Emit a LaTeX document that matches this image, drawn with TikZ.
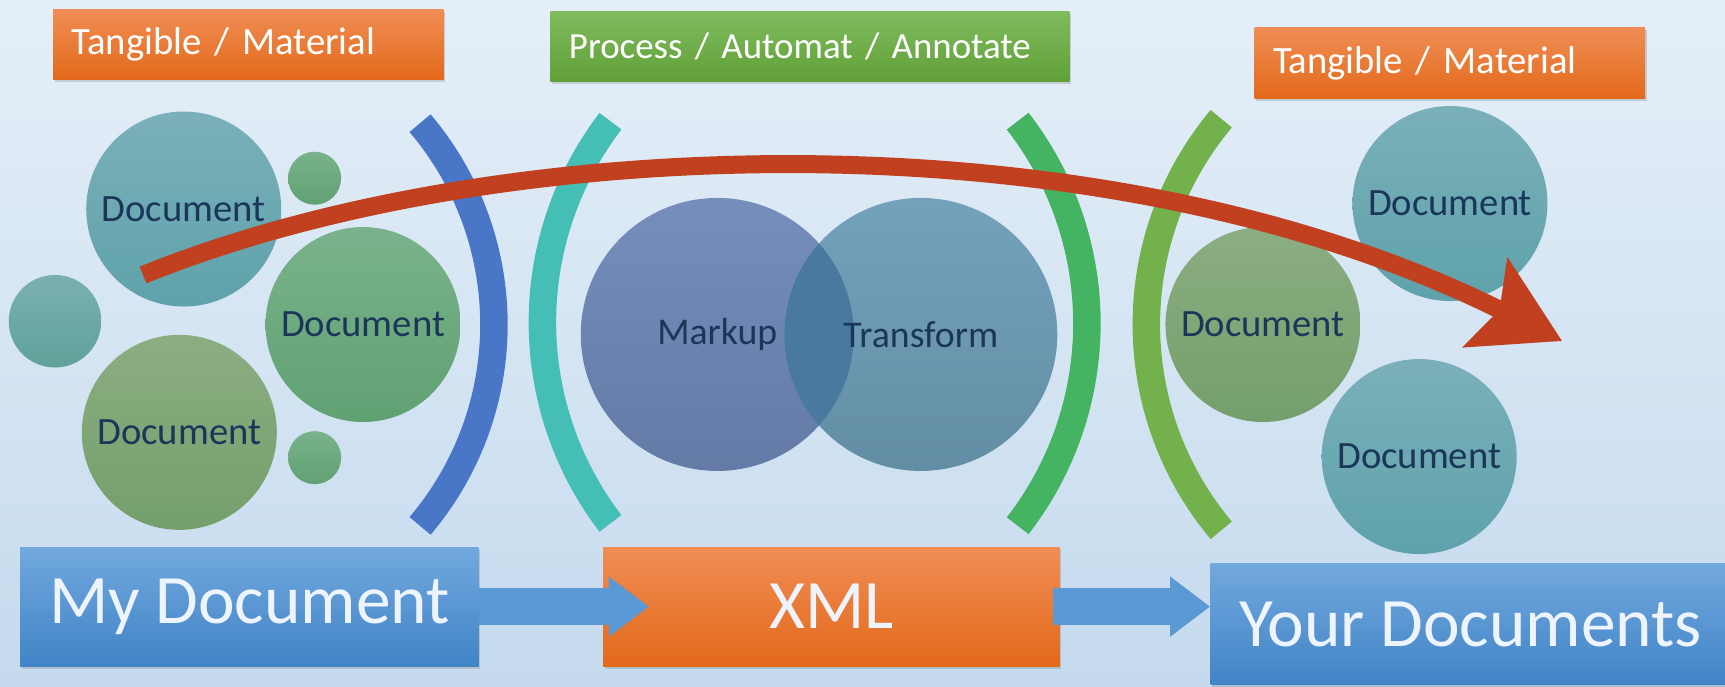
\documentclass[tikz,border=0pt]{standalone}
\usepackage{fontspec}
\setmainfont{Carlito}
\usepackage{xcolor}
\usepackage{tikz}
\usetikzlibrary{shapes.geometric, arrows.meta, shadows}

\definecolor{skytop}{HTML}{E5EFF8}
\definecolor{skybot}{HTML}{C5DAEE}
\definecolor{orangetop}{HTML}{F08D55}
\definecolor{orangebot}{HTML}{E3691A}
\definecolor{greentop}{HTML}{80BB5E}
\definecolor{greenbot}{HTML}{60A038}
\definecolor{bluetop}{HTML}{72A8DE}
\definecolor{bluebot}{HTML}{4084C6}
\definecolor{docink}{HTML}{1A3658}
\definecolor{boxink}{HTML}{EEF4FB}
\definecolor{tealtop}{HTML}{7AB0B9}
\definecolor{tealbot}{HTML}{5FA2AB}
\definecolor{leaftop}{HTML}{7AB28B}
\definecolor{leafbot}{HTML}{60A172}
\definecolor{olivetop}{HTML}{8BAD82}
\definecolor{olivebot}{HTML}{749F6B}
\definecolor{markupblue}{HTML}{6E88B8}
\definecolor{transformblue}{HTML}{6D9DB7}
\definecolor{lensblue}{HTML}{4A79A0}
\definecolor{arcblue}{HTML}{4A76C8}
\definecolor{arcteal}{HTML}{45BEB5}
\definecolor{arcgreen}{HTML}{44B463}
\definecolor{arclime}{HTML}{72B14B}
\definecolor{flowred}{HTML}{C1401F}
\definecolor{pipeblue}{HTML}{5B99D4}

\tikzstyle{doc} = [circle, minimum size=3.9cm, inner sep=0pt, text=docink, font=\fontsize{22}{26}\selectfont]
\tikzstyle{bubble} = [circle, inner sep=0pt]
\tikzstyle{venn} = [circle, minimum size=5.46cm, inner sep=0pt, text=docink, font=\fontsize{21.5}{26}\selectfont]
\tikzstyle{tag} = [rectangle, anchor=north west, minimum height=1.41cm, inner xsep=0.37cm, align=left, text=white, font=\fontsize{22}{26}\selectfont, drop shadow={opacity=0.3, shadow xshift=0.03cm, shadow yshift=-0.05cm}]
\tikzstyle{bigbox} = [rectangle, anchor=north west, minimum height=2.38cm, text=boxink, font=\fontsize{39.5}{46}\selectfont, drop shadow={opacity=0.3, shadow xshift=0.03cm, shadow yshift=-0.05cm}]
\tikzstyle{bracket} = [line width=0.55cm]
\tikzstyle{flow} = [line width=0.36cm, draw=flowred, -{Stealth[length=1.7cm, width=1.95cm, inset=0.3cm]}]
\tikzstyle{pipe} = [line width=0.73cm, draw=pipeblue, -{Triangle[length=0.8cm, width=1.15cm]}]

\begin{document}
\begin{tikzpicture}[x=0.022cm, y=0.022cm]
   \useasboundingbox (0,0) rectangle (1568,624);
   \shade [top color=skytop, bottom color=skybot] (0,0) rectangle (1568,624);
   \node (tagleft) [tag, text width=7.07cm, top color=orangetop, bottom color=orangebot] at (48,616) {\mbox{Tangible / Material}};
   \node (tagmid) [tag, text width=9.64cm, font=\fontsize{21}{25}\selectfont, top color=greentop, bottom color=greenbot] at (500,614) {\mbox{Process / Automat / Annotate}};
   \node (tagright) [tag, text width=7.07cm, top color=orangetop, bottom color=orangebot] at (1140,599) {\mbox{Tangible / Material}};
   \node (docA) [doc, top color=tealtop, bottom color=tealbot] at (167,434) {Document};
   \node (dotA) [bubble, minimum size=1.06cm, top color=leaftop, bottom color=leafbot] at (286,462) {};
   \node (dotB) [bubble, minimum size=1.85cm, top color=tealtop!80!leaftop, bottom color=tealbot!70!leafbot] at (50,332) {};
   \node (docB) [doc, top color=leaftop, bottom color=leafbot] at (330,329) {Document};
   \node (docC) [doc, top color=olivetop, bottom color=olivebot] at (163,231) {Document};
   \node (dotC) [bubble, minimum size=1.06cm, top color=leaftop, bottom color=leafbot] at (286,208) {};
   \node (markup) [venn, top color=markupblue!95!white, bottom color=markupblue!90!black] at (652,320) {Markup};
   \node (transform) [venn, top color=transformblue!95!white, bottom color=transformblue!90!black, path picture={\fill [lensblue] (markup) circle [radius=124];}] at (837,320) {Transform};
   \node (docD) [doc, top color=tealtop, bottom color=tealbot] at (1318,439) {Document};
   \node (docE) [doc, top color=olivetop, bottom color=olivebot] at (1148,329) {Document};
   \node (docF) [doc, top color=tealtop, bottom color=tealbot] at (1290,209) {Document};
   \draw [bracket, draw=arcblue] ([shift={(40.3:283)}]166,329) arc [start angle=40.3, end angle=-40.3, radius=283];
   \draw [bracket, draw=arcteal] ([shift={(142.6:301)}]794,331) arc [start angle=142.6, end angle=217.4, radius=301];
   \draw [bracket, draw=arcgreen] ([shift={(37.8:300)}]688,330) arc [start angle=37.8, end angle=-37.8, radius=300];
   \draw [bracket, draw=arclime] ([shift={(140:291)}]1333,329) arc [start angle=140, end angle=220, radius=291];
   \coordinate (flowstart) at (130,374);
   \coordinate (flowtip) at (1420,314);
   \draw [flow] (flowstart) .. controls (450,504) and (1000,524) .. (flowtip);
   \node (mydoc) [bigbox, minimum width=9.17cm, top color=bluetop, bottom color=bluebot] at (18,127) {My Document};
   \node (xml) [bigbox, minimum width=9.13cm, top color=orangetop, bottom color=orangebot] at (548,127) {XML};
   \node (yourdocs) [bigbox, minimum width=10.4cm, minimum height=2.42cm, top color=bluetop, bottom color=bluebot] at (1100,112) {Your Documents};
   \draw [pipe] (mydoc.east) -- ([xshift=0.92cm]xml.west);
   \draw [pipe] ([xshift=-0.15cm]xml.east) -- (xml.east -| yourdocs.west);
\end{tikzpicture}
\end{document}
